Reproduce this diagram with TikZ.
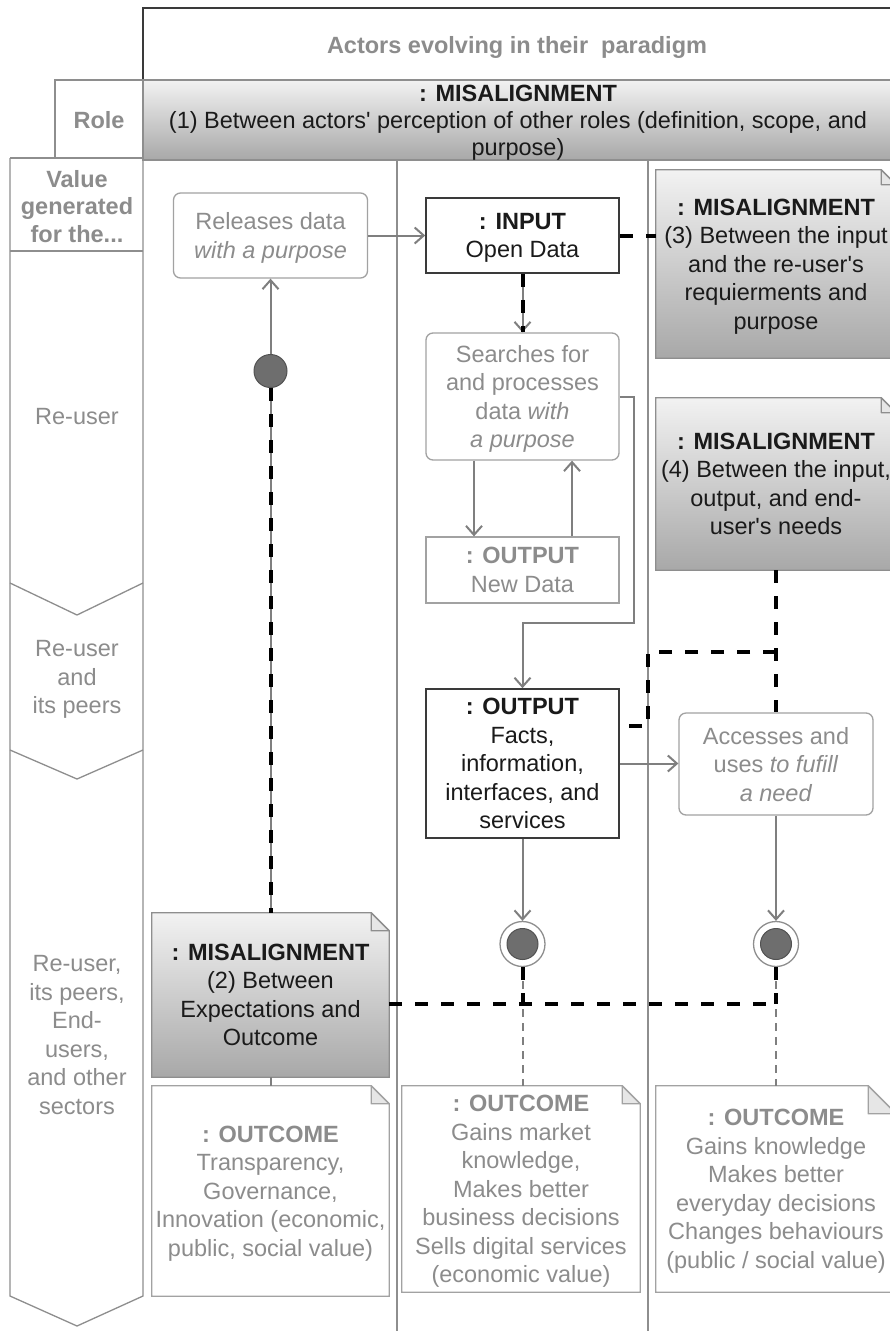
\documentclass[tikz,border=0pt]{standalone}
\usepackage{fontspec}
\setmainfont{Liberation Sans}[Ligatures=TeXOff]
\usetikzlibrary{arrows.meta,calc}
\definecolor{ink}{HTML}{1A1A1A}
\definecolor{darkline}{HTML}{3A3A3A}
\definecolor{txtgray}{HTML}{8C8C8C}
\definecolor{linegray}{HTML}{8E8E8E}
\definecolor{boxgray}{HTML}{A2A2A2}
\definecolor{arrgray}{HTML}{7F7F7F}
\definecolor{shadetop}{HTML}{F2F2F2}
\definecolor{shadebot}{HTML}{A8A8A8}
\definecolor{dot}{HTML}{6E6E6E}
\definecolor{foldfill}{HTML}{E6E6E6}
\pgfdeclarelayer{paper}
\pgfdeclarelayer{shapes}
\pgfsetlayers{paper,shapes,main}

% note outline with a folded top-right corner, drawn behind the node text
% #1 node, #2 fold size, #3 fill options, #4 border colour
\newcommand{\notebg}[4]{%
  \begin{pgfonlayer}{shapes}
    \path[#3, draw=#4, line width=1.3pt]
      (#1.south west) -- (#1.north west) -- ([xshift=-#2pt]#1.north east)
      -- ([yshift=-#2pt]#1.north east) -- (#1.south east) -- cycle;
    \filldraw[fill=foldfill, draw=#4, line width=1.3pt, line join=round]
      ([xshift=-#2pt]#1.north east) -- ([xshift=-#2pt,yshift=-#2pt]#1.north east)
      -- ([yshift=-#2pt]#1.north east) -- cycle;
  \end{pgfonlayer}}

\begin{document}
\begin{tikzpicture}[x=1pt,y=-1pt,
  txt/.style={font=\fontsize{23.5}{28.5}\selectfont, align=center, inner sep=0pt, text depth=0pt},
  hdr/.style={txt, font=\fontsize{23.5}{27.5}\selectfont\bfseries, text=txtgray},
  side/.style={txt, text=txtgray},
  actbox/.style={txt, draw=boxgray, line width=1.3pt, rounded corners=7pt, text=txtgray},
  objbox/.style={txt, draw=darkline, line width=1.6pt, text=ink},
  pale/.style={txt, draw=boxgray, line width=1.3pt, text=txtgray},
  misnote/.style={txt, text=ink},
  outnote/.style={txt, text=txtgray},
  flow/.style={draw=arrgray, line width=2pt, -{Straight Barb[length=9pt,width=16pt]}},
  plain/.style={draw=arrgray, line width=2pt},
  mis/.style={draw=black, line width=4pt, dash pattern=on 13pt off 13pt},
  faint/.style={draw=arrgray, line width=2pt, dash pattern=on 8pt off 6pt},
  frame/.style={draw=linegray, line width=1.3pt},
  startdot/.style={circle, fill=dot, draw=dot!75!black, line width=1pt, inner sep=0pt},
  ring/.style={circle, fill=white, draw=linegray, line width=1.3pt, inner sep=0pt, minimum size=45pt},
]
\begin{pgfonlayer}{paper}
  \fill[white] (0,0) rectangle (890,1331);
\end{pgfonlayer}
\useasboundingbox (0,0) rectangle (890,1331);

% swimlane frame
\draw[draw=darkline, line width=1.5pt] (143,80) -- (143,8) -- (900,8);
\draw[frame] (143,80) -- (55,80) -- (55,158);
\draw[frame] (10,158) -- (143,158);
\draw[frame] (10,251) -- (143,251);
\draw[frame] (143,160) -- (143,1296) -- (77,1326) -- (10,1296) -- (10,158);
\draw[frame] (10,583) -- (77,615) -- (143,583);
\draw[frame] (10,750) -- (77,779) -- (143,750);
\draw[frame] (397,160) -- (397,1331);
\draw[frame] (648,160) -- (648,1331);

% headers
\node[hdr] (title) at (517,45) {Actors evolving in their\ \ paradigm};
\node[hdr] (role) at (99,120) {Role};
\node[hdr] (valhd) at (77,206) {Value\\generated\\for the...};
\node[txt, font=\fontsize{23.5}{27}\selectfont, text=ink, minimum width=750pt, minimum height=80pt,
      top color=shadetop, bottom color=shadebot, draw=linegray, line width=1.3pt] (band) at (518,120)
  {\textbf{: MISALIGNMENT}\\(1) Between actors' perception of other roles (definition, scope, and\\purpose)};

% value levels
\node[side] (lv1) at (77,416) {Re-user};
\node[side] (lv2) at (77,677) {Re-user\\and\\its peers};
\node[side] (lv3) at (77,1035) {Re-user,\\its peers,\\End-\\users,\\and other\\sectors};

% activities and objects
\node[actbox, minimum width=194pt, minimum height=85pt] (rel) at (270.5,235.5) {Releases data\\\textit{with a purpose}};
\node[objbox, minimum width=193pt, minimum height=75pt] (inp) at (522.5,235.5) {\textbf{: INPUT}\\Open Data};
\node[actbox, minimum width=193pt, minimum height=127pt] (srch) at (522.5,396.5) {Searches for\\and processes\\data \textit{with}\\\textit{a purpose}};
\node[pale, minimum width=193pt, minimum height=66pt] (newd) at (522.5,570) {\textbf{: OUTPUT}\\New Data};
\node[objbox, minimum width=193pt, minimum height=149pt] (outf) at (522.5,763.5) {\textbf{: OUTPUT}\\Facts,\\information,\\interfaces, and\\services};
\node[actbox, minimum width=194pt, minimum height=102pt] (acc) at (776,764) {Accesses and\\uses \textit{to fufill}\\\textit{a need}};

% notes
\node[misnote, minimum width=240pt, minimum height=188pt] (m3) at (776,264) {\textbf{: MISALIGNMENT}\\(3) Between the input\\and the re-user's\\requierments and\\purpose};
\node[misnote, minimum width=240pt, minimum height=172pt] (m4) at (776,484) {\textbf{: MISALIGNMENT}\\(4) Between the input,\\output, and end-\\user's needs};
\node[misnote, minimum width=237pt, minimum height=164pt] (m2) at (270.5,995) {\textbf{: MISALIGNMENT}\\(2) Between\\Expectations and\\Outcome};
\node[outnote, minimum width=237pt, minimum height=210pt] (o1) at (270.5,1191) {\textbf{: OUTCOME}\\Transparency,\\Governance,\\Innovation (economic,\\public, social value)};
\node[outnote, minimum width=238pt, minimum height=206pt] (o2) at (521,1189) {\textbf{: OUTCOME}\\Gains market\\knowledge,\\Makes better\\business decisions\\Sells digital services\\(economic value)};
\node[outnote, minimum width=240pt, minimum height=206pt] (o3) at (776,1189) {\textbf{: OUTCOME}\\Gains knowledge\\Makes better\\everyday decisions\\Changes behaviours\\(public / social value)};
\notebg{m3}{15}{top color=shadetop, bottom color=shadebot}{linegray}
\notebg{m4}{15}{top color=shadetop, bottom color=shadebot}{linegray}
\notebg{m2}{18}{top color=shadetop, bottom color=shadebot}{linegray}
\notebg{o1}{18}{fill=white}{boxgray}
\notebg{o2}{18}{fill=white}{boxgray}
\notebg{o3}{28}{fill=white}{boxgray}

% initial and final nodes
\node[startdot, minimum size=33pt] (init) at (270.5,371) {};
\node[ring] (fin1) at (522.5,944) {};
\node[startdot, minimum size=31pt] (fin1c) at (fin1) {};
\node[ring] (fin2) at (776,944) {};
\node[startdot, minimum size=31pt] (fin2c) at (fin2) {};

% control flow
\coordinate (r1) at (634,396.5);
\coordinate (r2) at (634,623);
\coordinate (r3) at (522.5,623);
\draw[flow] (rel.east) -- (inp.west);
\draw[flow] (init.north) -- (rel.south);
\draw[flow] (inp.south) -- (srch.north);
\draw[flow] ([xshift=-48.5pt]srch.south) -- ([xshift=-48.5pt]newd.north);
\draw[flow] ([xshift=49.5pt]newd.north) -- ([xshift=49.5pt]srch.south);
\draw[flow] (srch.east) -- (r1) -- (r2) -- (r3) -- (outf.north);
\draw[flow] (outf.east) -- (outf.east -| acc.west);
\draw[flow] (outf.south) -- (fin1.north);
\draw[flow] (acc.south) -- (fin2.north);
\draw[plain] (init.south) -- (m2.north);
\draw[plain] (m2.south) -- (o1.north);
\draw[faint] (fin1.south) -- (fin1.south |- o2.north);
\draw[faint] (fin2.south) -- (o3.north);

% misalignment links
\coordinate (j1) at (776,652);
\coordinate (j2) at (648,652);
\coordinate (j3) at (648,726);
\coordinate (k1) at (522.5,1004);
\coordinate (k2) at (776,1004);
\draw[mis] (inp.south) -- (srch.north);
\draw[mis] (inp.east) -- (inp.east -| m3.west);
\draw[mis] (m4.south) -- (j1) -- (acc.north);
\draw[mis] (j1) -- (j2) -- (j3) -- (j3 -| outf.east);
\draw[mis] (init.south) -- (m2.north);
\draw[mis] (m2.east |- k1) -- (k2);
\draw[mis] (fin1.south) -- (k1);
\draw[mis] (fin2.south) -- (k2);
\end{tikzpicture}
\end{document}
